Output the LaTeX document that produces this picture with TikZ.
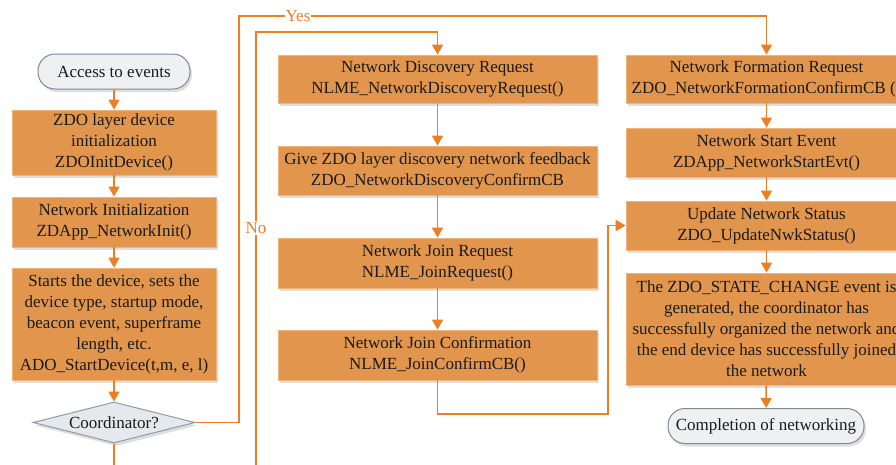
\documentclass[tikz,border=0pt]{standalone}
\usepackage{fontspec}
\setmainfont{Liberation Serif}
\usetikzlibrary{shapes.geometric,arrows.meta,shadows}
\definecolor{boxfill}{HTML}{E2964D}
\definecolor{boxdraw}{HTML}{F2B47A}
\definecolor{arrowc}{HTML}{EE7E22}
\definecolor{termfill}{HTML}{EEF0F2}
\definecolor{termdraw}{HTML}{7E8A94}
\definecolor{diafill}{HTML}{E6E9EB}
\definecolor{diadraw}{HTML}{8C9BA6}
\definecolor{txt}{HTML}{1A1A1A}
\begin{document}
\begin{tikzpicture}[x=1pt,y=-1pt,
  every node/.style={font=\fontsize{17}{21}\selectfont, text=txt},
  shade/.style={drop shadow={shadow xshift=2pt, shadow yshift=-3pt, fill=black, opacity=0.13}},
  procbox/.style={shade, draw=boxdraw, line width=0.8pt, fill=boxfill, align=center, inner sep=0pt},
  termbox/.style={shade, draw=termdraw, line width=1pt, fill=termfill, rounded corners=17pt, align=center, inner sep=0pt},
  decbox/.style={shade, diamond, aspect=3.95, draw=diadraw, line width=1pt, fill=diafill, inner sep=0pt, minimum width=162pt, minimum height=41pt},
  conn/.style={draw=arrowc, line width=1.5pt},
  arr/.style={conn, -{Triangle[width=11pt,length=10pt]}},
  lbl/.style={text=arrowc, fill=white, inner sep=1pt}
]
\useasboundingbox (0,0) rectangle (896,464);
\clip (0,0) rectangle (896,464);
% left column
\node[termbox, minimum width=152pt, minimum height=35pt] (start) at (114,71.5) {Access to events};
\node[procbox, minimum width=204pt, minimum height=65pt] (b1) at (114,142.5) {ZDO layer device\\initialization\\ZDOInitDevice()};
\node[procbox, minimum width=204pt, minimum height=50pt] (b2) at (114,222) {Network Initialization\\ZDApp\_NetworkInit()};
\node[procbox, minimum width=204pt, minimum height=112pt] (b3) at (114,324) {Starts the device, sets the\\device type, startup mode,\\beacon event, superframe\\length, etc.\\ADO\_StartDevice(t,m, e, l)};
\node[decbox] (dia) at (114,422.5) {Coordinator?};
% middle column
\node[procbox, minimum width=319pt, minimum height=48pt] (m1) at (437.5,79) {Network Discovery Request\\NLME\_NetworkDiscoveryRequest()};
\node[procbox, minimum width=319pt, minimum height=49pt] (m2) at (437.5,170.5) {Give ZDO layer discovery network feedback\\ZDO\_NetworkDiscoveryConfirmCB};
\node[procbox, minimum width=319pt, minimum height=50pt] (m3) at (437.5,263) {Network Join Request\\NLME\_JoinRequest()};
\node[procbox, minimum width=319pt, minimum height=50pt] (m4) at (437.5,355) {Network Join Confirmation\\NLME\_JoinConfirmCB()};
% right column
\node[procbox, minimum width=281pt, minimum height=48pt] (r1) at (766.5,79) {Network Formation Request\\ZDO\_NetworkFormationConfirmCB ()};
\node[procbox, minimum width=281pt, minimum height=49pt] (r2) at (766.5,152.5) {Network Start Event\\ZDApp\_NetworkStartEvt()};
\node[procbox, minimum width=281pt, minimum height=49pt] (r3) at (766.5,225.5) {Update Network Status\\ZDO\_UpdateNwkStatus()};
\node[procbox, minimum width=281pt, minimum height=112pt] (r4) at (766.5,329) {The ZDO\_STATE\_CHANGE event is\\generated, the coordinator has\\successfully organized the network and\\the end device has successfully joined\\the network};
\node[termbox, minimum width=196pt, minimum height=35pt] (end) at (766,426) {Completion of networking};
% coordinates
\coordinate (dB) at (114,470);
\coordinate (yA) at (239,16);
\coordinate (nB) at (256,470);
\coordinate (nT) at (256,32);
\coordinate (jA) at (608,414);
% connectors
\draw[arr] (start) -- (b1);
\draw[arr] (b1) -- (b2);
\draw[arr] (b2) -- (b3);
\draw[arr] (b3) -- (dia);
\draw[conn] (dia.south) -- (dB);
\draw[arr] (dia.east) -| (yA) -| (r1.north);
\draw[arr] (nB) -- (nT) -| (m1.north);
\draw[arr] (m1) -- (m2);
\draw[arr] (m2) -- (m3);
\draw[arr] (m3) -- (m4);
\draw[arr] (m4.south) |- (jA) |- (r3.west);
\draw[arr] (r1) -- (r2);
\draw[arr] (r2) -- (r3);
\draw[arr] (r3) -- (r4);
\draw[arr] (r4) -- (end);
\node[lbl] (yes) at (298,16) {Yes};
\node[lbl] (no) at (256,228) {No};
\end{tikzpicture}
\end{document}
